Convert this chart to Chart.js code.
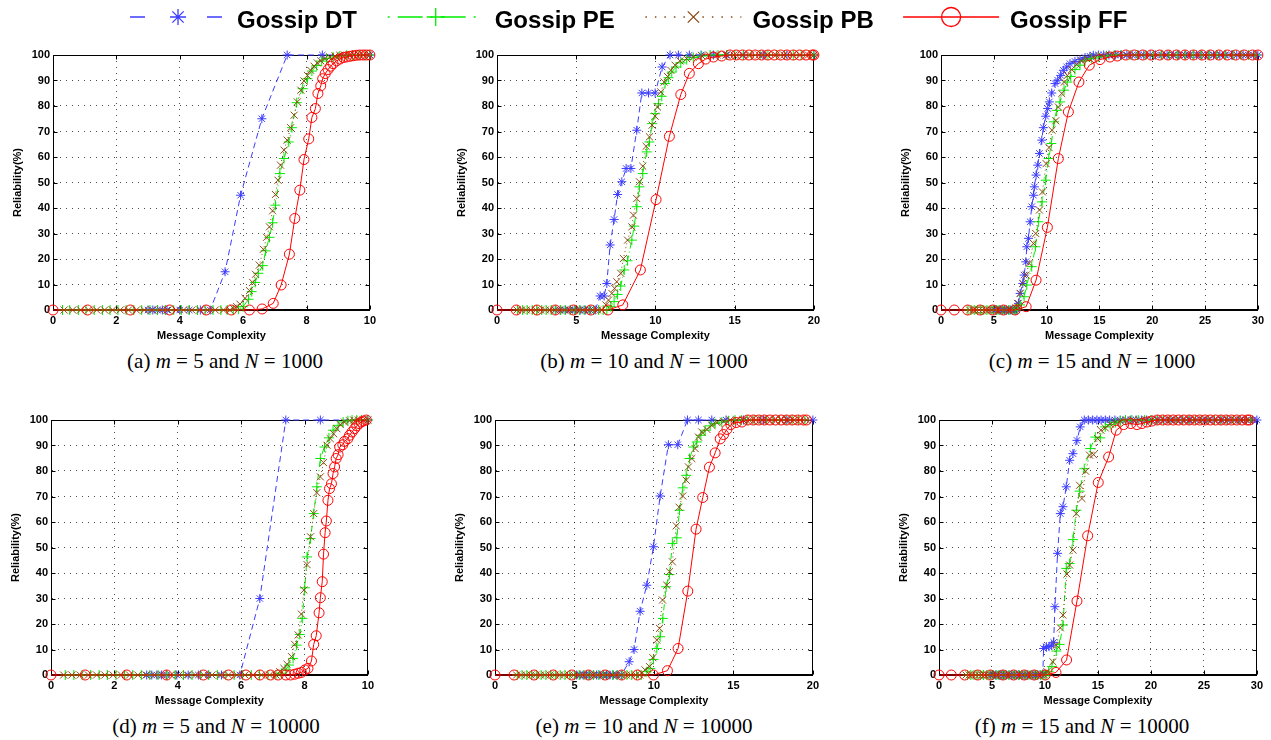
<!DOCTYPE html>
<html><head><meta charset="utf-8">
<script src="https://cdn.jsdelivr.net/npm/chart.js@4/dist/chart.umd.min.js"></script>
<style>
body{margin:0;background:#fff;width:1271px;height:740px;position:relative;overflow:hidden;font-family:"Liberation Sans",Arial,sans-serif}
canvas{position:absolute}
.cap{position:absolute;font-family:"Liberation Serif","Times New Roman",serif;font-size:21px;line-height:21px;white-space:nowrap;transform:translateX(-50%);color:#000}
</style></head><body>
<canvas id="legend" width="1271" height="40" style="left:0;top:0"></canvas>
<canvas id="ca" width="369" height="298" style="left:11px;top:45px"></canvas>
<canvas id="cb" width="369" height="298" style="left:455px;top:45px"></canvas>
<canvas id="cc" width="369" height="298" style="left:899px;top:45px"></canvas>
<canvas id="cd" width="369" height="298" style="left:9px;top:410px"></canvas>
<canvas id="ce" width="370" height="298" style="left:453px;top:410px"></canvas>
<canvas id="cf" width="370" height="298" style="left:897px;top:410px"></canvas>
<div class="cap" style="left:225px;top:351px">(a) <i>m</i> = 5 and <i>N</i> = 1000</div>
<div class="cap" style="left:644px;top:351px">(b) <i>m</i> = 10 and <i>N</i> = 1000</div>
<div class="cap" style="left:1092px;top:351px">(c) <i>m</i> = 15 and <i>N</i> = 1000</div>
<div class="cap" style="left:216px;top:716px">(d) <i>m</i> = 5 and <i>N</i> = 10000</div>
<div class="cap" style="left:644px;top:716px">(e) <i>m</i> = 10 and <i>N</i> = 10000</div>
<div class="cap" style="left:1082px;top:716px">(f) <i>m</i> = 15 and <i>N</i> = 10000</div>
<script>
// ---------- tick labels ----------
const yTicks = [0,10,20,30,40,50,60,70,80,90,100];
const xTicks10 = [0,2,4,6,8,10];
const xTicks20 = [0,5,10,15,20];
const xTicks30 = [0,5,10,15,20,25,30];
const seriesNames = ['Gossip DT','Gossip PE','Gossip PB','Gossip FF'];

// ---------- (a) m=5, N=1000 ----------
const a_DT = [[3.0,0],[3.15,0],[3.3,0],[3.45,0],[3.6,0],[4.0,0],[4.3,0],[4.65,0],[4.96,0],[5.43,15],[5.92,45],[6.59,75],[7.39,100],[8.5,100],[10,100]];
const a_PE = [[0.3,0],[0.53,0],[0.8,0],[1.04,0],[1.3,0],[1.56,0],[1.8,0],[2.05,0],[2.31,0],[2.55,0],[2.8,0],[3.06,0],[3.3,0],[3.55,0],[3.81,0],[4.05,0],[4.3,0],[4.56,0],[4.8,0],[5.05,0],[5.3,0],[5.5,0],[5.69,0],[5.85,0.3],[6.0,1.3],[6.17,4.2],[6.27,7.2],[6.38,10.8],[6.48,14.4],[6.62,17.4],[6.71,23.2],[6.83,28.5],[6.93,34.2],[7.02,41.1],[7.16,53.5],[7.29,59.4],[7.44,65.9],[7.54,71.5],[7.69,81.3],[7.88,86.8],[8.03,90.7],[8.17,93.7],[8.32,95.9],[8.48,97.6],[8.63,98.6],[8.84,99.2],[9.05,99.6],[9.26,99.9],[9.45,100],[9.65,100],[9.85,100],[10,100]];
const a_PB = [[0.35,0],[0.62,0],[0.87,0],[1.12,0],[1.38,0],[1.63,0],[1.88,0],[2.12,0],[2.38,0],[2.63,0],[2.88,0],[3.12,0],[3.38,0],[3.63,0],[3.88,0],[4.12,0],[4.38,0],[4.63,0],[4.88,0],[5.12,0],[5.38,0],[5.58,0],[5.69,0.7],[5.8,1.3],[5.9,2.3],[6.06,4.6],[6.2,7.6],[6.3,10.8],[6.39,14],[6.51,17.6],[6.64,23.8],[6.74,28.5],[6.83,32.6],[6.93,38.9],[7.02,45.3],[7.1,50.9],[7.18,56.8],[7.29,62.7],[7.39,66.6],[7.5,71.5],[7.61,76.4],[7.71,81.6],[7.82,86.2],[7.92,89.8],[8.03,92],[8.13,94],[8.24,95.6],[8.34,96.9],[8.45,97.7],[8.58,98.6],[8.74,99.2],[8.9,99.6],[9.05,99.9],[9.2,100],[9.35,100],[9.5,100],[9.65,100],[9.8,100],[9.95,100]];
const a_FF = [[0,0],[1.09,0],[2.44,0],[3.68,0],[4.83,0],[5.63,0],[6.2,0],[6.6,0.4],[6.95,2.6],[7.2,9.8],[7.46,21.9],[7.63,35.9],[7.79,47],[7.92,59],[8.07,67.1],[8.17,75.5],[8.28,79],[8.36,84.9],[8.45,87.9],[8.51,90.7],[8.59,92.7],[8.68,94.3],[8.76,95.6],[8.84,96.6],[8.95,97.7],[9.05,98.4],[9.16,99],[9.26,99.2],[9.37,99.5],[9.47,99.7],[9.58,99.9],[9.68,100],[9.79,100],[9.89,100],[10,100]];

// ---------- (b) m=10, N=1000 ----------
const b_DT = [[3.68,0],[3.99,0],[4.31,0],[4.62,0],[4.94,0],[5.25,0],[5.57,0],[5.88,0],[6.2,0],[6.51,5.5],[6.76,5.5],[6.93,10.4],[7.14,25.5],[7.39,35.5],[7.61,45.3],[7.88,50.3],[8.15,55.5],[8.45,55.5],[8.82,70.5],[9.14,85.1],[9.56,85.1],[9.98,85.1],[10.42,95.3],[10.92,100],[11.45,100],[12.14,100],[12.88,100],[13.66,100],[14.5,100],[15.55,100],[16.8,100],[18.3,100],[20,100]];
const b_PE = [[1.3,0],[1.62,0],[1.9,0],[2.22,0],[2.5,0],[2.82,0],[3.1,0],[3.42,0],[3.7,0],[4.02,0],[4.3,0],[4.62,0],[4.9,0],[5.22,0],[5.5,0],[5.82,0],[6.1,0],[6.42,0],[6.7,0],[6.93,0],[7.18,1.3],[7.39,3.3],[7.61,6.1],[7.81,9.4],[8.03,15.7],[8.24,19.3],[8.51,27.4],[8.66,32.9],[8.82,40.5],[8.99,48.3],[9.2,53.5],[9.45,62],[9.62,65.9],[9.79,73.1],[9.98,77],[10.19,80.9],[10.4,83.8],[10.61,88.8],[10.82,91.1],[11.03,93.3],[11.3,95.3],[11.6,96.9],[11.97,98.2],[12.39,99],[12.92,99.6],[13.45,100],[13.95,100],[14.5,100],[15.0,100],[15.55,100],[16.05,100],[16.6,100],[17.1,100],[17.65,100],[18.15,100],[18.7,100],[19.2,100],[19.7,100],[20,100]];
const b_PB = [[1.26,0],[1.55,0],[1.85,0],[2.15,0],[2.45,0],[2.75,0],[3.05,0],[3.35,0],[3.65,0],[3.95,0],[4.25,0],[4.55,0],[4.85,0],[5.15,0],[5.45,0],[5.75,0],[6.05,0],[6.35,0],[6.62,0],[6.87,2],[7.04,3.9],[7.25,6.5],[7.42,8.5],[7.56,11.1],[7.81,14.4],[7.98,20.2],[8.24,27.4],[8.51,32.6],[8.61,37.2],[8.82,43.7],[8.99,50.3],[9.2,56.4],[9.41,64.2],[9.62,67.9],[9.79,72.5],[9.98,76],[10.13,79.6],[10.34,85.5],[10.55,89.4],[10.76,91.6],[10.97,94],[11.24,96],[11.55,97.7],[11.97,98.6],[12.39,99.2],[12.92,99.7],[13.4,100],[13.9,100],[14.45,100],[14.95,100],[15.5,100],[16.0,100],[16.55,100],[17.05,100],[17.6,100],[18.1,100],[18.65,100],[19.15,100],[19.65,100],[20,100]];
const b_FF = [[0,0],[1.22,0],[2.52,0],[3.68,0],[4.83,0],[5.92,0],[7.0,0],[7.94,2],[9.05,15.7],[10.04,43.3],[10.88,68.1],[11.6,84.5],[12.14,92.8],[12.71,96.6],[13.17,98.4],[13.66,99.2],[14.18,99.6],[14.7,100],[15.1,100],[15.5,100],[15.9,100],[16.3,100],[16.7,100],[17.1,100],[17.5,100],[17.9,100],[18.3,100],[18.7,100],[19.1,100],[19.5,100],[19.9,100],[20,100]];

// ---------- (c) m=15, N=1000 ----------
const c_DT = [[4.97,0],[5.2,0],[5.4,0],[5.6,0],[5.8,0],[6.0,0],[6.2,0],[6.4,0],[6.6,0],[6.8,0],[7.0,0],[7.18,0],[7.33,2.6],[7.49,6.5],[7.74,10.4],[7.87,13.7],[8.03,18.9],[8.12,24.8],[8.28,28.1],[8.44,34.6],[8.59,40.5],[8.75,45],[8.84,48.3],[9.0,52.9],[9.16,56.8],[9.32,61.4],[9.54,66.6],[9.69,71.5],[9.91,76],[10.1,79],[10.26,81.6],[10.48,85.1],[10.8,88.8],[11.05,90.1],[11.33,92],[11.58,94],[11.9,95.3],[12.21,96.6],[12.68,97.5],[13.16,98.2],[13.63,99],[14.1,99.5],[14.42,99.9],[14.9,100],[15.4,100],[15.9,100],[16.5,100],[17.0,100],[17.6,100],[18.1,100],[18.7,100],[19.2,100],[19.8,100],[20.3,100],[20.9,100],[21.4,100],[22.0,100],[22.5,100],[23.1,100],[23.6,100],[24.2,100],[24.7,100],[25.3,100],[25.8,100],[26.4,100],[26.9,100],[27.5,100],[28.0,100],[28.6,100],[29.1,100],[29.6,100],[30,100]];
const c_PE = [[2.55,0],[2.85,0],[3.15,0],[3.45,0],[3.75,0],[4.05,0],[4.35,0],[4.65,0],[4.95,0],[5.25,0],[5.55,0],[5.85,0],[6.15,0],[6.45,0],[6.75,0],[7.05,0],[7.25,0.5],[7.49,2],[7.87,5.2],[8.12,9.8],[8.59,17],[8.94,24.8],[9.22,34.6],[9.57,42.4],[9.91,50.9],[10.2,59.4],[10.45,65.3],[10.7,73.8],[10.95,78.3],[11.27,81.6],[11.65,86.2],[11.96,89.4],[12.28,91.6],[12.68,94.3],[13.16,96],[13.63,97.7],[14.26,98.6],[14.89,99.2],[15.67,99.7],[16.4,100],[17.1,100],[17.9,100],[18.6,100],[19.4,100],[20.1,100],[20.9,100],[21.6,100],[22.4,100],[23.1,100],[23.9,100],[24.6,100],[25.4,100],[26.1,100],[26.9,100],[27.6,100],[28.4,100],[29.1,100],[29.8,100]];
const c_PB = [[2.7,0],[3.0,0],[3.3,0],[3.6,0],[3.9,0],[4.2,0],[4.5,0],[4.8,0],[5.1,0],[5.4,0],[5.7,0],[6.0,0],[6.3,0],[6.6,0],[6.9,0],[7.1,0.8],[7.24,2.6],[7.49,6.5],[7.74,10.4],[8.06,13.7],[8.34,18.3],[8.75,26.1],[8.97,30],[9.32,39.2],[9.6,46.3],[9.95,57.4],[10.23,63.7],[10.51,70.5],[10.86,74.2],[11.11,79.6],[11.43,84.9],[11.68,89.4],[11.96,92],[12.37,94.3],[12.84,96.3],[13.31,97.7],[13.79,98.6],[14.42,99.2],[15.2,99.7],[16.0,100],[16.8,100],[17.5,100],[18.3,100],[19.0,100],[19.8,100],[20.5,100],[21.3,100],[22.0,100],[22.8,100],[23.5,100],[24.3,100],[25.0,100],[25.8,100],[26.5,100],[27.3,100],[28.0,100],[28.8,100],[29.5,100]];
const c_FF = [[0,0],[1.26,0],[2.52,0],[3.71,0],[4.91,0],[5.92,0],[7.02,0],[8.06,1.3],[9.0,11.7],[10.07,32.4],[11.11,59.4],[12.06,77.7],[13.06,89.4],[14.04,96],[15.05,98.2],[15.99,99.2],[16.68,99.6],[17.5,100],[18.3,100],[19.1,100],[19.9,100],[20.7,100],[21.5,100],[22.3,100],[23.1,100],[23.9,100],[24.7,100],[25.5,100],[26.3,100],[27.1,100],[27.9,100],[28.7,100],[29.5,100],[30,100]];

// ---------- (d) m=5, N=10000 ----------
const d_DT = [[3.02,0],[3.18,0],[3.34,0],[3.49,0],[3.65,0],[3.97,0],[4.33,0],[4.65,0],[4.96,0],[5.38,0],[5.96,0],[6.59,30],[7.41,100],[8.5,100],[10,100]];
const d_PE = [[0.45,0],[0.72,0],[0.98,0],[1.25,0],[1.52,0],[1.78,0],[2.05,0],[2.32,0],[2.58,0],[2.85,0],[3.12,0],[3.38,0],[3.65,0],[3.92,0],[4.18,0],[4.45,0],[4.72,0],[4.98,0],[5.25,0],[5.52,0],[5.78,0],[6.05,0],[6.32,0],[6.58,0],[6.85,0],[7.1,0],[7.27,0.7],[7.41,2],[7.51,3.9],[7.64,6.5],[7.75,11.7],[7.85,15.9],[7.93,22.2],[8.01,34.2],[8.08,46.3],[8.19,53.5],[8.29,63.3],[8.39,73.8],[8.5,84.9],[8.63,89.4],[8.77,93],[8.9,96],[9.06,97.9],[9.22,99.2],[9.37,99.7],[9.5,100],[9.65,100],[9.8,100],[10,100]];
const d_PB = [[0.4,0],[0.66,0],[0.92,0],[1.18,0],[1.44,0],[1.7,0],[1.96,0],[2.22,0],[2.48,0],[2.74,0],[3.0,0],[3.26,0],[3.52,0],[3.78,0],[4.04,0],[4.3,0],[4.56,0],[4.82,0],[5.08,0],[5.34,0],[5.6,0],[5.86,0],[6.12,0],[6.38,0],[6.64,0],[6.9,0],[7.1,0],[7.22,1.3],[7.35,2.6],[7.45,4.2],[7.59,7.2],[7.69,12],[7.8,15.7],[7.9,23.9],[7.98,33.3],[8.08,43.3],[8.19,54.2],[8.29,63.3],[8.39,71.5],[8.5,77.7],[8.6,83.3],[8.71,90.1],[8.81,92.7],[8.92,94.6],[9.02,96.6],[9.13,98.2],[9.26,99.2],[9.42,99.7],[9.55,100],[9.7,100],[9.85,100],[10,100]];
const d_FF = [[0,0],[1.08,0],[2.39,0],[3.65,0],[4.81,0],[5.6,0],[6.15,0],[6.59,0],[6.93,0],[7.17,0],[7.41,0],[7.56,0],[7.69,0.3],[7.8,0.7],[7.9,1],[8.01,2],[8.11,2.6],[8.22,5.5],[8.29,12],[8.37,15.4],[8.46,24.4],[8.5,30.3],[8.56,36.6],[8.6,47.4],[8.65,55.8],[8.69,60.4],[8.74,68.5],[8.79,73.1],[8.85,75],[8.9,79],[8.95,81.6],[9.0,84.9],[9.06,86.4],[9.11,89.4],[9.21,90.3],[9.26,91.6],[9.37,92.7],[9.42,94],[9.5,95.3],[9.58,96.6],[9.65,97.7],[9.72,98.6],[9.79,99.2],[9.86,99.6],[9.95,100]];

// ---------- (e) m=10, N=10000 ----------
const e_DT = [[5.14,0],[5.35,0],[5.55,0],[5.76,0],[5.97,0],[6.18,0],[6.39,0],[6.6,0],[6.81,0],[7.02,0],[7.23,0],[7.44,0],[7.66,0],[7.95,0],[8.44,5.2],[8.75,10],[9.13,25],[9.55,35.2],[9.97,50.3],[10.39,70.2],[10.91,90.3],[11.5,90.3],[12.11,100],[12.8,100],[13.64,100],[14.54,100],[15.63,100],[16.89,100],[18.36,100],[20,100]];
const e_PE = [[1.4,0],[1.7,0],[2.0,0],[2.3,0],[2.6,0],[2.9,0],[3.2,0],[3.5,0],[3.8,0],[4.1,0],[4.4,0],[4.7,0],[5.0,0],[5.3,0],[5.6,0],[5.9,0],[6.2,0],[6.5,0],[6.8,0],[7.1,0],[7.4,0],[7.7,0],[8.0,0],[8.3,0],[8.6,0],[8.9,0],[9.2,0],[9.55,1.3],[9.76,2.6],[9.97,6.1],[10.18,10.4],[10.39,15],[10.56,22.2],[10.77,34.6],[10.98,39.4],[11.16,51.6],[11.44,53.8],[11.61,64.6],[11.81,73.4],[12.03,78.3],[12.24,84.9],[12.49,89.4],[12.7,91.4],[12.95,94],[13.22,96],[13.54,97.7],[13.85,98.6],[14.27,99.2],[14.69,99.7],[15.1,100],[15.5,100],[15.9,100],[16.3,100],[16.7,100],[17.1,100],[17.5,100],[17.9,100],[18.3,100],[18.7,100],[19.1,100],[19.5,100]];
const e_PB = [[1.36,0],[1.66,0],[1.96,0],[2.26,0],[2.56,0],[2.86,0],[3.16,0],[3.46,0],[3.76,0],[4.06,0],[4.36,0],[4.66,0],[4.96,0],[5.26,0],[5.56,0],[5.86,0],[6.16,0],[6.46,0],[6.76,0],[7.06,0],[7.36,0],[7.66,0],[7.96,0],[8.26,0],[8.56,0],[8.86,0],[9.1,0],[9.23,0.7],[9.44,2],[9.72,3.3],[9.93,6.8],[10.18,13.7],[10.35,18.3],[10.54,29.4],[10.81,35.2],[10.98,40.5],[11.16,44.4],[11.4,58.5],[11.58,65.8],[11.81,70.2],[12.03,76.4],[12.17,81.6],[12.38,84.9],[12.59,88.8],[12.8,93.3],[13.01,95.3],[13.33,96.3],[13.64,97.9],[13.96,99],[14.38,99.5],[14.8,100],[15.2,100],[15.6,100],[16.0,100],[16.4,100],[16.8,100],[17.2,100],[17.6,100],[18.0,100],[18.4,100],[18.8,100],[19.2,100],[19.6,100]];
const e_FF = [[0,0],[1.2,0],[2.46,0],[3.67,0],[4.83,0],[5.88,0],[6.93,0],[7.97,0],[8.96,0],[9.97,0],[10.85,1.7],[11.52,10.4],[12.13,32.9],[12.65,57.2],[13.07,69.6],[13.49,81.5],[13.85,87.1],[14.17,92.6],[14.38,94.3],[14.59,96.3],[14.84,98.2],[15.17,99],[15.53,99.2],[15.9,100],[16.25,100],[16.6,100],[16.95,100],[17.3,100],[17.65,100],[18.0,100],[18.35,100],[18.7,100],[19.05,100],[19.4,100],[19.6,100]];

// ---------- (f) m=15, N=10000 ----------
const f_DT = [[4.84,0],[5.1,0],[5.35,0],[5.6,0],[5.85,0],[6.1,0],[6.35,0],[6.6,0],[6.85,0],[7.1,0],[7.35,0],[7.6,0],[7.85,0],[8.1,0],[8.35,0],[8.6,0],[8.85,0],[9.1,0],[9.35,0],[9.6,0],[9.8,0.5],[9.87,10.4],[10.13,11.1],[10.38,11.1],[10.63,11.7],[10.82,12.8],[10.94,26.8],[11.19,47.7],[11.45,63.3],[11.7,66],[12.01,73.8],[12.33,84.2],[12.64,86.8],[13.02,92],[13.33,97.3],[13.71,100],[14.1,100],[14.5,100],[14.9,100],[15.3,100],[15.7,100],[16.1,100],[16.6,100],[17.1,100],[17.6,100],[18.1,100],[18.6,100],[19.1,100],[19.6,100],[20.1,100],[20.6,100],[21.2,100],[21.8,100],[22.4,100],[23.0,100],[23.6,100],[24.2,100],[24.8,100],[25.4,100],[26.0,100],[26.6,100],[27.2,100],[27.8,100],[28.4,100],[29.0,100],[29.6,100],[30,100]];
const f_PE = [[2.7,0],[3.0,0],[3.3,0],[3.6,0],[3.9,0],[4.2,0],[4.5,0],[4.8,0],[5.1,0],[5.4,0],[5.7,0],[6.0,0],[6.3,0],[6.6,0],[6.9,0],[7.2,0],[7.5,0],[7.8,0],[8.1,0],[8.4,0],[8.7,0],[9.0,0],[9.3,0],[9.6,0],[9.9,0],[10.1,0],[10.35,1.3],[10.66,3.3],[11.07,9.4],[11.38,12],[11.7,19.6],[12.01,41.8],[12.33,43.7],[12.64,53.1],[12.96,64.6],[13.27,72.1],[13.71,80.9],[14.28,88.8],[14.75,93.3],[15.22,93],[15.69,97.3],[16.16,98.2],[16.64,99],[17.11,99.6],[17.6,100],[18.2,100],[18.8,100],[19.4,100],[20.0,100],[20.6,100],[21.2,100],[21.8,100],[22.4,100],[23.0,100],[23.6,100],[24.2,100],[24.8,100],[25.4,100],[26.0,100],[26.6,100],[27.2,100],[27.8,100],[28.4,100],[29.0,100],[29.4,100]];
const f_PB = [[2.55,0],[2.85,0],[3.15,0],[3.45,0],[3.75,0],[4.05,0],[4.35,0],[4.65,0],[4.95,0],[5.25,0],[5.55,0],[5.85,0],[6.15,0],[6.45,0],[6.75,0],[7.05,0],[7.35,0],[7.65,0],[7.95,0],[8.25,0],[8.55,0],[8.85,0],[9.15,0],[9.45,0],[9.75,0],[9.95,0],[10.19,1.3],[10.75,5.2],[11.07,11.7],[11.45,18.5],[11.7,23.5],[12.08,39.6],[12.33,43.1],[12.64,49],[12.96,63.3],[13.27,74.4],[13.49,69.2],[13.84,79.9],[14.21,86.2],[14.59,86.4],[14.97,92.7],[15.28,96],[15.69,96.9],[16.16,98.4],[16.64,99.2],[17.11,99.6],[17.7,100],[18.3,100],[18.9,100],[19.5,100],[20.1,100],[20.7,100],[21.3,100],[21.9,100],[22.5,100],[23.1,100],[23.7,100],[24.3,100],[24.9,100],[25.5,100],[26.1,100],[26.7,100],[27.3,100],[27.9,100],[28.5,100],[29.1,100],[29.3,100]];
const f_FF = [[0,0],[1.16,0],[2.42,0],[3.65,0],[4.84,0],[6.04,0],[7.04,0],[8.05,0],[8.99,0],[10.03,0],[11.04,1],[12.04,5.9],[13.02,29],[14.03,54.6],[15.03,75.5],[16.01,85.5],[16.73,96],[17.42,98.2],[18.11,98.6],[18.68,98.2],[19.15,98.6],[19.62,99.2],[20.09,99.6],[20.6,100],[21.1,100],[21.6,100],[22.1,100],[22.6,100],[23.1,100],[23.6,100],[24.1,100],[24.6,100],[25.1,100],[25.6,100],[26.1,100],[26.6,100],[27.1,100],[27.6,100],[28.1,100],[28.6,100],[29.1,100],[29.3,100]];

// ---------- styles ----------
Chart.defaults.font.family = "'Liberation Sans', Arial, Helvetica, sans-serif";
Chart.defaults.color = '#000';
const STY = [
  {color:'#3c3cff', dash:[6,4], point:'star', r:4.5, order:4, lgDash:[15,62], lgR:8},
  {color:'#00ee00', dash:[6,3,1,3], point:'cross', r:5, order:3, lgDash:[2,8,25,8], lgR:9},
  {color:'#8c4a14', dash:[1,3], point:'crossRot', r:5, order:2, lgDash:[1.5,8], lgR:8},
  {color:'#ff0000', dash:[], point:'circle', r:5, order:1, lgDash:[], lgR:9.5}
];

function makeDataset(pairs, i) {
  const s = STY[i];
  return {
    label: seriesNames[i],
    data: pairs.map(p => ({x: p[0], y: p[1]})),
    borderColor: s.color, backgroundColor: 'rgba(0,0,0,0)',
    borderWidth: 1, borderDash: s.dash,
    pointStyle: s.point, pointRadius: s.r, pointHoverRadius: s.r,
    pointBorderColor: s.color, pointBackgroundColor: 'rgba(0,0,0,0)', pointBorderWidth: 1,
    tension: 0, fill: false, clip: false, order: s.order, showLine: true
  };
}

// full axes box with small inward tick marks (MATLAB style)
const boxPlugin = {
  id: 'box',
  beforeDatasetsDraw(chart) {
    const {ctx, chartArea: a, scales} = chart;
    ctx.save();
    ctx.strokeStyle = '#000'; ctx.lineWidth = 1; ctx.setLineDash([]);
    const l = Math.round(a.left) + 0.5, t = Math.round(a.top) + 0.5;
    const r = Math.round(a.right) - 0.5, b = Math.round(a.bottom) - 0.5;
    ctx.strokeRect(l, t, r - l, b - t);
    const tl = 4;
    ctx.beginPath();
    scales.x.ticks.forEach(tk => {
      const px = Math.round(scales.x.getPixelForValue(tk.value)) + 0.5;
      ctx.moveTo(px, b); ctx.lineTo(px, b - tl);
      ctx.moveTo(px, t); ctx.lineTo(px, t + tl);
    });
    scales.y.ticks.forEach(tk => {
      const py = Math.round(scales.y.getPixelForValue(tk.value)) + 0.5;
      ctx.moveTo(l, py); ctx.lineTo(l + tl, py);
      ctx.moveTo(r, py); ctx.lineTo(r - tl, py);
    });
    ctx.stroke();
    ctx.restore();
  }
};

function makePanel(id, series, xMax, xTicks) {
  const axisFont = {size: 11, weight: 'bold'};
  const gridColor = 'rgba(0,0,0,0.7)';
  new Chart(document.getElementById(id), {
    type: 'line',
    data: {datasets: series.map((p, i) => makeDataset(p, i))},
    options: {
      responsive: false, animation: false, devicePixelRatio: 1, events: [],
      layout: {padding: {top: 10, right: 10, left: 0, bottom: 0}},
      plugins: {legend: {display: false}, tooltip: {enabled: false}},
      scales: {
        x: {
          type: 'linear', min: 0, max: xMax,
          afterBuildTicks: sc => { sc.ticks = xTicks.map(v => ({value: v})); },
          afterFit: sc => { sc.height = 33; },
          ticks: {padding: 4, color: '#000', font: axisFont, maxRotation: 0, autoSkip: false},
          grid: {color: gridColor, lineWidth: 1, drawTicks: false},
          border: {display: true, color: '#000', width: 1, dash: [1, 5]},
          title: {display: true, text: 'Message Complexity', color: '#000', font: axisFont, padding: 0}
        },
        y: {
          type: 'linear', min: 0, max: 100,
          afterBuildTicks: sc => { sc.ticks = yTicks.map(v => ({value: v})); },
          afterFit: sc => { sc.width = 42; },
          ticks: {padding: 3, color: '#000', font: axisFont, autoSkip: false},
          grid: {color: gridColor, lineWidth: 1, drawTicks: false},
          border: {display: true, color: '#000', width: 1, dash: [1, 5]},
          title: {display: true, text: 'Reliability(%)', color: '#000', font: axisFont, padding: 0}
        }
      }
    },
    plugins: [boxPlugin]
  });
}

makePanel('ca', [a_DT, a_PE, a_PB, a_FF], 10, xTicks10);
makePanel('cb', [b_DT, b_PE, b_PB, b_FF], 20, xTicks20);
makePanel('cc', [c_DT, c_PE, c_PB, c_FF], 30, xTicks30);
makePanel('cd', [d_DT, d_PE, d_PB, d_FF], 10, xTicks10);
makePanel('ce', [e_DT, e_PE, e_PB, e_FF], 20, xTicks20);
makePanel('cf', [f_DT, f_PE, f_PB, f_FF], 30, xTicks30);

// ---------- legend ----------
function fallbackPoint(ctx, style, r, x, y) {
  ctx.beginPath();
  if (style === 'circle') { ctx.arc(x, y, r, 0, Math.PI * 2); }
  else {
    const d = r * Math.SQRT1_2;
    if (style === 'cross' || style === 'star') { ctx.moveTo(x - r, y); ctx.lineTo(x + r, y); ctx.moveTo(x, y - r); ctx.lineTo(x, y + r); }
    if (style === 'crossRot' || style === 'star') { ctx.moveTo(x - d, y - d); ctx.lineTo(x + d, y + d); ctx.moveTo(x - d, y + d); ctx.lineTo(x + d, y - d); }
  }
  ctx.stroke();
}
const legendPlugin = {
  id: 'gossipLegend',
  afterDraw(chart) {
    const ctx = chart.ctx;
    chart.data.datasets.forEach((ds, i) => {
      const s = STY[i];
      const x0 = 130 + i * 257.7, y = 17;
      ctx.save();
      ctx.strokeStyle = s.color; ctx.lineWidth = 1.5;
      ctx.setLineDash(s.lgDash);
      ctx.beginPath(); ctx.moveTo(x0, y); ctx.lineTo(x0 + 96, y); ctx.stroke();
      ctx.setLineDash([]);
      ctx.lineWidth = 1.3;
      ctx.fillStyle = 'rgba(0,0,0,0)';
      if (Chart.helpers && Chart.helpers.drawPoint) {
        Chart.helpers.drawPoint(ctx, {pointStyle: s.point, radius: s.lgR, rotation: 0, borderWidth: 1.3}, x0 + 48, y);
      } else {
        fallbackPoint(ctx, s.point, s.lgR, x0 + 48, y);
      }
      ctx.fillStyle = '#000';
      ctx.font = "bold 24px 'Liberation Sans', Arial, sans-serif";
      ctx.textBaseline = 'alphabetic'; ctx.textAlign = 'left';
      ctx.fillText(ds.label, x0 + 107, 28);
      ctx.restore();
    });
  }
};
new Chart(document.getElementById('legend'), {
  type: 'line',
  data: {datasets: seriesNames.map((n, i) => ({label: n, data: [], borderColor: STY[i].color}))},
  options: {
    responsive: false, animation: false, devicePixelRatio: 1, events: [],
    plugins: {legend: {display: false}, tooltip: {enabled: false}},
    scales: {x: {display: false}, y: {display: false}}
  },
  plugins: [legendPlugin]
});
</script>
</body></html>
